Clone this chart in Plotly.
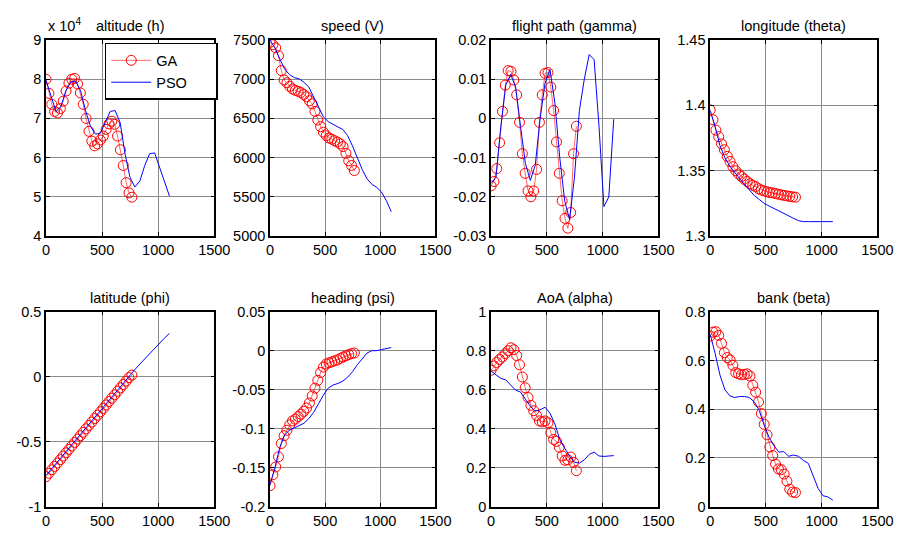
import plotly.graph_objects as go
from plotly.subplots import make_subplots

# ---------------- data ----------------
t_ga = [0, 25.5, 51, 76.5, 102, 127.5, 153, 178.5, 204, 229.5, 255, 280.5, 306, 331.5, 357,
        382.5, 408, 433.5, 459, 484.5, 510, 535.5, 561, 586.5, 612, 637.5, 663, 688.5, 714,
        739.5, 765]
t_pso = [0, 44, 88, 132, 176, 220, 264, 308, 352, 396, 440, 484, 528, 572, 616, 660, 704,
         748, 792, 836, 880, 924, 968, 1012, 1056, 1100]

alt_ga = [8.00, 7.64, 7.36, 7.18, 7.14, 7.25, 7.44, 7.70, 7.90, 8.00, 8.02, 7.88, 7.65, 7.36,
          7.00, 6.67, 6.42, 6.30, 6.35, 6.45, 6.55, 6.72, 6.86, 6.93, 6.85, 6.55, 6.20, 5.80,
          5.36, 5.10, 4.99]
alt_pso = [7.97, 7.60, 7.18, 7.30, 7.70, 7.93, 7.95, 7.70, 7.20, 6.80, 6.60, 6.62, 6.90, 7.18,
           7.20, 6.90, 6.10, 5.50, 5.25, 5.40, 5.80, 6.10, 6.12, 5.75, 5.35, 5.02]

spd_ga = [7470, 7440, 7400, 7300, 7110, 6990, 6955, 6910, 6875, 6858, 6845, 6830, 6805, 6777,
          6725, 6685, 6590, 6480, 6395, 6325, 6280, 6250, 6235, 6215, 6198, 6176, 6140, 6055,
          5960, 5900, 5835]
spd_pso = [7500, 7400, 7260, 7130, 7060, 7020, 7005, 6960, 6900, 6780, 6660, 6520, 6460, 6420,
           6390, 6360, 6280, 6150, 5990, 5850, 5730, 5660, 5620, 5560, 5450, 5310]

gam_ga = [-0.0172, -0.0161, -0.0128, -0.0062, 0.0018, 0.0085, 0.0122, 0.0120, 0.0098, 0.0060,
          -0.0010, -0.0090, -0.0140, -0.0185, -0.0200, -0.0185, -0.0130, -0.0010, 0.0060,
          0.0115, 0.0117, 0.0080, 0.0020, -0.0060, -0.0140, -0.0210, -0.0255, -0.0280,
          -0.0240, -0.0090, -0.0020]
gam_pso = [-0.0166, -0.0150, -0.0020, 0.0085, 0.0112, 0.0080, -0.0020, -0.0115, -0.0158,
           -0.0120, 0.0000, 0.0090, 0.0125, 0.0040, -0.0100, -0.0210, -0.0258, -0.0150,
           0.0020, 0.0100, 0.0163, 0.0150, -0.0020, -0.0225, -0.0200, -0.0002]

lon_ga = [1.3965, 1.3890, 1.3810, 1.3760, 1.3705, 1.3660, 1.3610, 1.3570, 1.3530, 1.3500,
          1.3475, 1.3455, 1.3435, 1.3418, 1.3400, 1.3388, 1.3378, 1.3362, 1.3352, 1.3345,
          1.3338, 1.3333, 1.3330, 1.3325, 1.3320, 1.3315, 1.3311, 1.3307, 1.3303, 1.3300,
          1.3297]
lon_pso = [1.3960, 1.3840, 1.3690, 1.3600, 1.3535, 1.3485, 1.3440, 1.3395, 1.3350, 1.3310,
           1.3280, 1.3250, 1.3230, 1.3210, 1.3195, 1.3175, 1.3155, 1.3135, 1.3118, 1.3110,
           1.3110, 1.3110, 1.3110, 1.3110, 1.3110, 1.3110]

lat_ga = [-0.769, -0.743, -0.716, -0.690, -0.664, -0.638, -0.611, -0.585, -0.559, -0.533,
          -0.506, -0.480, -0.454, -0.428, -0.401, -0.375, -0.349, -0.322, -0.296, -0.270,
          -0.244, -0.217, -0.191, -0.165, -0.139, -0.112, -0.086, -0.060, -0.034, -0.007,
          0.012]
lat_pso = [-0.760, -0.716, -0.670, -0.624, -0.579, -0.533, -0.487, -0.442, -0.396, -0.351,
           -0.306, -0.260, -0.215, -0.170, -0.124, -0.079, -0.033, 0.012, 0.055, 0.097,
           0.138, 0.178, 0.218, 0.258, 0.297, 0.333]

hdg_ga = [-0.173, -0.159, -0.149, -0.136, -0.119, -0.109, -0.102, -0.095, -0.090, -0.0878,
          -0.0845, -0.0814, -0.0778, -0.0735, -0.067, -0.058, -0.048, -0.038, -0.028, -0.021,
          -0.017, -0.0155, -0.0143, -0.013, -0.0118, -0.0098, -0.0082, -0.0065, -0.0050,
          -0.0038, -0.0030]
hdg_pso = [-0.172, -0.150, -0.124, -0.108, -0.102, -0.099, -0.096, -0.093, -0.087, -0.079,
           -0.068, -0.057, -0.048, -0.044, -0.042, -0.039, -0.034, -0.027, -0.018, -0.010,
           -0.003, 0.000, 0.000, 0.0015, 0.003, 0.004]

aoa_ga = [0.700, 0.722, 0.740, 0.755, 0.768, 0.785, 0.800, 0.815, 0.805, 0.775, 0.728, 0.665,
          0.610, 0.560, 0.520, 0.492, 0.468, 0.440, 0.435, 0.440, 0.430, 0.380, 0.345, 0.335,
          0.305, 0.260, 0.238, 0.240, 0.255, 0.228, 0.185]
aoa_pso = [0.695, 0.675, 0.658, 0.650, 0.625, 0.598, 0.588, 0.552, 0.515, 0.490, 0.497, 0.510,
           0.480, 0.425, 0.345, 0.300, 0.260, 0.228, 0.224, 0.240, 0.268, 0.280, 0.260, 0.258,
           0.261, 0.262]

bank_ga = [0.700, 0.716, 0.718, 0.703, 0.670, 0.632, 0.612, 0.602, 0.580, 0.550, 0.545, 0.541,
           0.543, 0.545, 0.536, 0.498, 0.470, 0.430, 0.382, 0.338, 0.295, 0.245, 0.210, 0.175,
           0.155, 0.152, 0.134, 0.105, 0.072, 0.060, 0.058]
bank_pso = [0.707, 0.630, 0.540, 0.480, 0.455, 0.448, 0.452, 0.452, 0.448, 0.430, 0.395, 0.335,
            0.285, 0.250, 0.224, 0.226, 0.207, 0.212, 0.207, 0.190, 0.178, 0.125, 0.075, 0.045,
            0.040, 0.027]

titles = ["altitude (h)", "speed (V)", "flight path (gamma)", "longitude (theta)",
          "latitude (phi)", "heading (psi)", "AoA (alpha)", "bank (beta)"]

x_ticks = [0, 500, 1000, 1500]
x_ticktext = ["0", "500", "1000", "1500"]

y_ticks = [
    ([4, 5, 6, 7, 8, 9], ["4", "5", "6", "7", "8", "9"]),
    ([5000, 5500, 6000, 6500, 7000, 7500], ["5000", "5500", "6000", "6500", "7000", "7500"]),
    ([-0.03, -0.02, -0.01, 0, 0.01, 0.02], ["-0.03", "-0.02", "-0.01", "0", "0.01", "0.02"]),
    ([1.3, 1.35, 1.4, 1.45], ["1.3", "1.35", "1.4", "1.45"]),
    ([-1, -0.5, 0, 0.5], ["-1", "-0.5", "0", "0.5"]),
    ([-0.2, -0.15, -0.1, -0.05, 0, 0.05], ["-0.2", "-0.15", "-0.1", "-0.05", "0", "0.05"]),
    ([0, 0.2, 0.4, 0.6, 0.8, 1], ["0", "0.2", "0.4", "0.6", "0.8", "1"]),
    ([0, 0.2, 0.4, 0.6, 0.8], ["0", "0.2", "0.4", "0.6", "0.8"]),
]
y_ranges = [[4, 9], [5000, 7500], [-0.03, 0.02], [1.3, 1.45],
            [-1, 0.5], [-0.2, 0.05], [0, 1], [0, 0.8]]

ga_series = [alt_ga, spd_ga, gam_ga, lon_ga, lat_ga, hdg_ga, aoa_ga, bank_ga]
pso_series = [alt_pso, spd_pso, gam_pso, lon_pso, lat_pso, hdg_pso, aoa_pso, bank_pso]

# ---------------- layout geometry (pixels) ----------------
W, H = 912, 538
col_px = [(43, 215), (272, 441), (498, 669), (722, 893)]
row_px = [(33, 235), (313, 514)]

FONT = "Liberation Sans, Arial, sans-serif"
PAD = "\u00a0" * 6

fig = make_subplots(rows=2, cols=4)

for i in range(8):
    r, c = i // 4 + 1, i % 4 + 1
    fig.add_trace(go.Scatter(
        x=t_ga, y=ga_series[i], mode="lines+markers", name="GA" + PAD,
        line=dict(color="rgba(255,0,0,0.75)", width=0.8),
        marker=dict(symbol="circle-open", size=10, color="#ff0000", line=dict(width=1, color="#ff0000")),
        showlegend=(i == 0), legendrank=1), row=r, col=c)
    fig.add_trace(go.Scatter(
        x=t_pso, y=pso_series[i], mode="lines", name="PSO" + PAD,
        line=dict(color="#0000ff", width=1),
        showlegend=(i == 0), legendrank=2), row=r, col=c)

axis_common = dict(showline=True, linecolor="black", linewidth=1.5, mirror="allticks",
                   ticks="inside", ticklen=4, tickcolor="black", tickwidth=1,
                   showgrid=True, gridcolor="#8a8a8a", gridwidth=1, zeroline=False,
                   tickfont=dict(family=FONT, size=14.5, color="black"))

annotations = []
for i in range(8):
    r, c = i // 4, i % 4
    x0, x1 = col_px[c]
    ytop, ybot = row_px[r]
    xd = [x0 / W, x1 / W]
    yd = [1 - ybot / H, 1 - ytop / H]
    n = i + 1
    xa = "xaxis" if n == 1 else f"xaxis{n}"
    ya = "yaxis" if n == 1 else f"yaxis{n}"
    fig.layout[xa].update(domain=xd, range=[0, 1500], tickvals=x_ticks, ticktext=x_ticktext,
                          **axis_common)
    fig.layout[ya].update(domain=yd, range=y_ranges[i], tickvals=y_ticks[i][0],
                          ticktext=y_ticks[i][1], **axis_common)
    annotations.append(dict(text=titles[i], x=(xd[0] + xd[1]) / 2, y=yd[1], xref="paper",
                            yref="paper", xanchor="center", yanchor="bottom", yshift=4,
                            showarrow=False, font=dict(family=FONT, size=14.5, color="black")))

annotations.append(dict(text="x 10<sup>4</sup>", x=col_px[0][0] / W, y=1 - row_px[0][0] / H,
                        xref="paper", yref="paper", xanchor="left", yanchor="bottom", yshift=4,
                        showarrow=False, font=dict(family=FONT, size=14.5, color="black")))

fig.update_layout(
    width=W, height=H, margin=dict(l=0, r=0, t=0, b=0),
    paper_bgcolor="white", plot_bgcolor="white",
    annotations=annotations,
    legend=dict(x=103 / W, y=1 - 36 / H, xanchor="left", yanchor="top",
                bgcolor="white", bordercolor="black", borderwidth=1.5,
                font=dict(family=FONT, size=14.5, color="black"), itemwidth=40,
                tracegroupgap=0),
    showlegend=True,
)

fig.write_html("out.html")
